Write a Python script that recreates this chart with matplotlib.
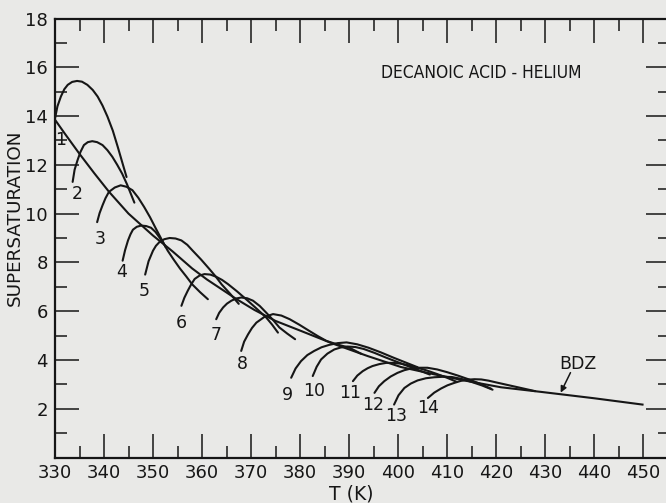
import matplotlib
matplotlib.use("Agg")
import matplotlib.pyplot as plt

# ---------------- data ----------------
bdz_T = [330, 332, 335, 338, 341, 345, 350, 354, 358, 361, 364, 367, 370.7, 375,
         380.2, 386.7, 393.8, 400.6, 407.4, 413.5, 421, 429.2, 440, 449.9]
bdz_S = [13.85, 13.28, 12.45, 11.66, 10.9, 10.0, 9.1, 8.45, 7.75, 7.3, 6.9, 6.5,
         6.05, 5.6, 5.19, 4.67, 4.16, 3.71, 3.41, 3.16, 2.88, 2.69, 2.43, 2.17]

c1_T = [330.0, 330.5, 331.2, 331.9, 332.6, 333.5, 334.5, 335.5, 336.6, 337.7,
        338.7, 339.7, 340.7, 341.8, 342.8, 343.7, 344.6]
c1_S = [13.9, 14.4, 14.8, 15.1, 15.28, 15.4, 15.44, 15.41, 15.28, 15.07,
        14.8, 14.43, 13.98, 13.4, 12.74, 12.12, 11.5]
c2_T = [333.6, 334.0, 334.6, 335.2, 335.9, 336.7, 337.6, 338.6, 339.7, 340.7,
        341.7, 342.7, 343.7, 344.7, 345.6, 346.2]
c2_S = [11.3, 11.8, 12.19, 12.53, 12.81, 12.93, 12.97, 12.93, 12.81, 12.6,
        12.33, 12.0, 11.64, 11.2, 10.75, 10.45]
c3_T = [338.6, 339.1, 339.7, 340.3, 341.0, 342.2, 343.4, 344.6, 345.8, 347.0,
        348.2, 349.4, 350.6, 351.6, 352.6]
c3_S = [9.65, 10.02, 10.34, 10.63, 10.89, 11.07, 11.16, 11.1, 10.96, 10.65,
        10.27, 9.85, 9.38, 9.0, 8.62]
c4_T = [343.8, 344.3, 344.9, 345.4, 345.9, 346.7, 347.6, 348.6, 349.6, 350.5,
        351.3, 352.2, 353.0, 354.2, 355.5, 356.8, 358.0, 359.6, 361.2]
c4_S = [8.07, 8.5, 8.9, 9.15, 9.34, 9.46, 9.51, 9.49, 9.42, 9.25,
        9.03, 8.77, 8.48, 8.12, 7.75, 7.42, 7.1, 6.78, 6.49]
c5_T = [348.4, 349.1, 350.0, 350.6, 351.3, 352.3, 353.4, 354.6, 355.8, 357.0,
        358.1, 359.8, 361.5, 362.8, 364.0, 365.8, 367.5]
c5_S = [7.5, 8.05, 8.48, 8.68, 8.83, 8.95, 9.0, 8.98, 8.9, 8.72,
        8.48, 8.12, 7.73, 7.42, 7.1, 6.7, 6.3]
c6_T = [355.8, 356.4, 357.1, 357.8, 358.5, 359.5, 360.5, 361.7, 362.9, 364.1,
        365.3, 367.1, 369.0, 371.0, 373.1, 374.3, 375.5]
c6_S = [6.22, 6.55, 6.84, 7.1, 7.32, 7.46, 7.52, 7.5, 7.41, 7.28,
        7.11, 6.82, 6.49, 6.13, 5.74, 5.45, 5.12]
c7_T = [362.9, 363.5, 364.3, 365.1, 366.0, 367.0, 368.0, 369.2, 370.4, 371.8,
        373.1, 374.5, 375.8, 377.4, 379.0]
c7_S = [5.67, 5.93, 6.15, 6.31, 6.43, 6.52, 6.56, 6.53, 6.43, 6.21,
        5.94, 5.64, 5.33, 5.08, 4.85]
c8_T = [368.0, 368.6, 369.4, 370.2, 371.1, 372.7, 374.5, 376.2, 377.9, 379.9,
        381.9, 383.7, 385.4, 387.7, 390.1, 392.5]
c8_S = [4.37, 4.75, 5.05, 5.31, 5.53, 5.76, 5.88, 5.82, 5.67, 5.44,
        5.19, 4.97, 4.78, 4.63, 4.5, 4.25]
c9_T = [378.2, 379.1, 380.2, 381.5, 382.9, 384.4, 386.0, 387.7, 389.5, 391.7,
        394.0, 396.5, 399.0, 401.5, 404.0]
c9_S = [3.27, 3.65, 3.95, 4.2, 4.37, 4.52, 4.62, 4.69, 4.72, 4.64,
        4.5, 4.31, 4.1, 3.9, 3.7]
c10_T = [382.6, 383.4, 384.3, 385.6, 387.0, 388.3, 389.7, 391.3, 393.0, 395.2,
         397.5, 399.7, 402.0, 404.2, 406.5]
c10_S = [3.34, 3.72, 4.02, 4.26, 4.43, 4.51, 4.55, 4.53, 4.45, 4.29,
         4.1, 3.93, 3.75, 3.58, 3.4]
c11_T = [390.8, 391.7, 392.8, 393.8, 394.8, 396.2, 397.6, 399.0, 400.5, 402.2,
         404.0, 406.0, 408.0, 410.0, 412.0]
c11_S = [3.13, 3.36, 3.54, 3.66, 3.75, 3.83, 3.88, 3.88, 3.85, 3.78,
         3.68, 3.56, 3.42, 3.27, 3.1]
c12_T = [395.2, 396.1, 397.2, 398.5, 399.9, 401.3, 402.7, 404.3, 406.0, 408.0,
         410.0, 412.2, 414.5, 416.8, 419.0]
c12_S = [2.65, 2.92, 3.13, 3.32, 3.47, 3.58, 3.65, 3.68, 3.68, 3.61,
         3.5, 3.36, 3.2, 3.02, 2.82]
c13_T = [399.2, 400.1, 401.3, 402.6, 404.0, 405.7, 407.4, 409.2, 411.0, 413.0,
         415.0, 417.2, 419.3]
c13_S = [2.17, 2.55, 2.85, 3.03, 3.16, 3.25, 3.29, 3.31, 3.3, 3.22,
         3.1, 2.95, 2.78]
c14_T = [406.1, 407.4, 408.8, 410.1, 411.5, 412.8, 414.2, 415.6, 417.0, 418.5,
         420.0, 422.0, 424.0, 426.0, 428.0]
c14_S = [2.44, 2.66, 2.83, 2.96, 3.06, 3.14, 3.19, 3.21, 3.2, 3.15,
         3.08, 2.99, 2.9, 2.81, 2.72]

curves_T = [c1_T, c2_T, c3_T, c4_T, c5_T, c6_T, c7_T, c8_T, c9_T, c10_T,
            c11_T, c12_T, c13_T, c14_T]
curves_S = [c1_S, c2_S, c3_S, c4_S, c5_S, c6_S, c7_S, c8_S, c9_S, c10_S,
            c11_S, c12_S, c13_S, c14_S]

curve_labels = ["1", "2", "3", "4", "5", "6", "7", "8", "9", "10",
                "11", "12", "13", "14"]
label_T = [331.2, 334.5, 339.2, 343.5, 348.2, 355.7, 362.9, 368.3, 377.5,
           382.9, 390.3, 395.0, 399.6, 406.1]
label_S = [13.0, 10.82, 8.97, 7.59, 6.81, 5.53, 5.01, 3.84, 2.58,
           2.72, 2.65, 2.17, 1.69, 2.03]

x_ticks = [330, 340, 350, 360, 370, 380, 390, 400, 410, 420, 430, 440, 450]
x_minor = [335, 345, 355, 365, 375, 385, 395, 405, 415, 425, 435, 445]
y_ticks = [2, 4, 6, 8, 10, 12, 14, 16, 18]
y_minor = [1, 3, 5, 7, 9, 11, 13, 15, 17]

title_text = "DECANOIC ACID - HELIUM"
bdz_text = "BDZ"

# ---------------- figure ----------------
BG = "#e9e9e7"
INK = "#161616"

fig = plt.figure(figsize=(6.66, 5.03), dpi=100)
fig.patch.set_facecolor(BG)
ax = fig.add_axes([55 / 666, (503 - 457.5) / 503, (455.5 - 330) * 4.9 / 666, 439 / 503])
ax.set_facecolor(BG)
ax.set_xlim(330, 455.5)
ax.set_ylim(0, 18)

ax.plot(bdz_T, bdz_S, color=INK, lw=1.5, solid_joinstyle="round")
for T, S in zip(curves_T, curves_S):
    ax.plot(T, S, color=INK, lw=1.5, solid_joinstyle="round", solid_capstyle="round")

font = dict(family="DejaVu Sans", color=INK)
for t, x, y in zip(curve_labels, label_T, label_S):
    ax.text(x, y, t, ha="center", va="center", fontsize=12.5, **font)

ax.text(0.693, 0.876, title_text, transform=ax.transAxes, ha="center", va="center",
        fontsize=12.5, family="DejaVu Sans", fontstretch="condensed", color=INK)

ax.text(436.8, 3.82, bdz_text, ha="center", va="center", fontsize=12.5, **font)
ax.annotate("", xy=(433.2, 2.66), xytext=(435.2, 3.48),
            arrowprops=dict(arrowstyle="-|>", color=INK, lw=1.1, mutation_scale=9,
                            shrinkA=0, shrinkB=0))

ax.set_xticks(x_ticks)
ax.set_xticks(x_minor, minor=True)
ax.set_xticklabels([str(v) for v in x_ticks])
ax.set_yticks(y_ticks)
ax.set_yticks(y_minor, minor=True)
ax.set_yticklabels([str(v) for v in y_ticks])

ax.tick_params(which="both", direction="in", top=True, right=True, colors=INK,
               labelsize=13)
ax.tick_params(which="major", length=17, width=1.1, pad=5)
ax.tick_params(which="minor", length=8.5, width=1.1)
for s in ax.spines.values():
    s.set_linewidth(1.6)
    s.set_color(INK)
for lab in ax.get_xticklabels() + ax.get_yticklabels():
    lab.set_family("DejaVu Sans")

fig.text(0.527, 0.018, "T (K)", ha="center", va="center", fontsize=13.5, **font)
fig.text(0.0225, 0.567, "SUPERSATURATION", ha="center", va="center", rotation=90,
         fontsize=13.2, **font)

fig.savefig("out.png", dpi=100, facecolor=BG)
